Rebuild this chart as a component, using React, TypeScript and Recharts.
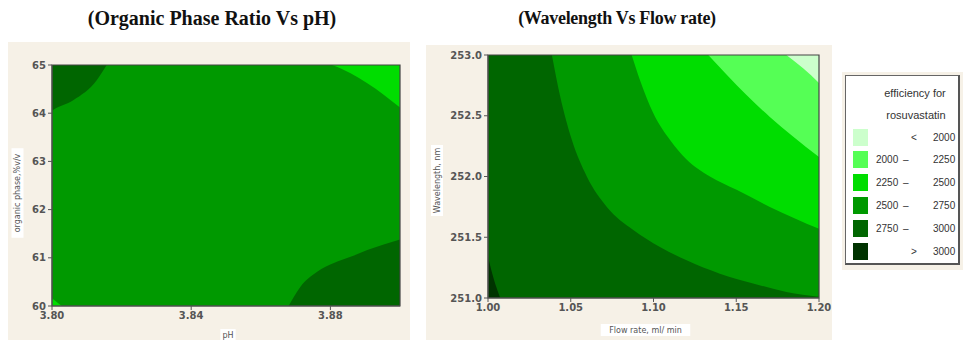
import { ComposedChart, Area, XAxis, YAxis, ReferenceArea, Label } from 'recharts';

// contour level colours, light -> dark
const levelNames = ['<  2000', '2000 –  2250', '2250 –  2500', '2500 –  2750', '2750 –  3000', '>  3000'];
const levelColors = ['#ccffcc', '#55ff55', '#00dd00', '#009900', '#006600', '#003300'];

// organic phase (%v/v) vs pH: contour edges
const phTicks = [3.8, 3.84, 3.88];
const organicTicks = [60, 61, 62, 63, 64, 65];
const phTopLeftEdge = [
  { x: 3.8, y: 64.05 },
  { x: 3.8004, y: 64.07 },
  { x: 3.8061, y: 64.27 },
  { x: 3.8129, y: 64.69 },
  { x: 3.8157, y: 65.0 },
];
const phTopRightEdge = [
  { x: 3.8805, y: 65.0 },
  { x: 3.8858, y: 64.83 },
  { x: 3.8906, y: 64.62 },
  { x: 3.8954, y: 64.38 },
  { x: 3.9, y: 64.12 },
];
const phBottomRightEdge = [
  { x: 3.868, y: 60.0 },
  { x: 3.8714, y: 60.4 },
  { x: 3.8762, y: 60.71 },
  { x: 3.881, y: 60.89 },
  { x: 3.8858, y: 61.02 },
  { x: 3.8906, y: 61.16 },
  { x: 3.9, y: 61.38 },
];
const phBottomLeftEdge = [
  { x: 3.8, y: 60.16 },
  { x: 3.8028, y: 60.0 },
];

// wavelength (nm) vs flow rate: contour edges
const flowTicks = [1.0, 1.05, 1.1, 1.15, 1.2];
const waveTicks = [251.0, 251.5, 252.0, 252.5, 253.0];
const wave2750Edge = [
  { x: 1.0386, y: 253.0 },
  { x: 1.0436, y: 252.66 },
  { x: 1.0507, y: 252.3 },
  { x: 1.0597, y: 252.0 },
  { x: 1.0718, y: 251.75 },
  { x: 1.0878, y: 251.56 },
  { x: 1.1039, y: 251.42 },
  { x: 1.12, y: 251.31 },
  { x: 1.1401, y: 251.2 },
  { x: 1.1602, y: 251.12 },
  { x: 1.1803, y: 251.05 },
  { x: 1.2, y: 251.01 },
];
const wave2500Edge = [
  { x: 1.0868, y: 253.0 },
  { x: 1.0919, y: 252.79 },
  { x: 1.0999, y: 252.52 },
  { x: 1.11, y: 252.3 },
  { x: 1.12, y: 252.14 },
  { x: 1.1341, y: 252.0 },
  { x: 1.1502, y: 251.89 },
  { x: 1.1703, y: 251.75 },
  { x: 1.2, y: 251.57 },
];
const wave2250Edge = [
  { x: 1.1331, y: 253.0 },
  { x: 1.1441, y: 252.84 },
  { x: 1.1562, y: 252.67 },
  { x: 1.1703, y: 252.49 },
  { x: 1.1843, y: 252.33 },
  { x: 1.2, y: 252.16 },
];
const wave2000Edge = [
  { x: 1.1803, y: 253.0 },
  { x: 1.1904, y: 252.89 },
  { x: 1.2, y: 252.77 },
];
const wave3000Edge = [
  { x: 1.0, y: 251.34 },
  { x: 1.0034, y: 251.16 },
  { x: 1.0074, y: 251.0 },
];

const panelBg = '#f6f1e7';
const tickFont = { fontSize: 10, fill: '#555', fontFamily: 'DejaVu Sans', fontWeight: 'bold' };

const sideTag = (text: string, cx: number, shift: number, fs: number) => (props: any) => {
  const vb = props.viewBox;
  const cy = vb.y + vb.height / 2 + shift;
  const w = text.length * fs * 0.58 + 6;
  return (
    <g transform={`translate(${cx},${cy}) rotate(-90)`}>
      <rect x={-w / 2} y={-fs / 2 - 2} width={w} height={fs + 4} fill="#fff" />
      <text textAnchor="middle" dy={fs * 0.35} fontSize={fs} fill="#555" fontFamily="DejaVu Sans">
        {text}
      </text>
    </g>
  );
};

const bottomTag = (text: string, shift: number, dy: number, fs: number) => (props: any) => {
  const vb = props.viewBox;
  const cx = vb.x + vb.width / 2 + shift;
  const cy = vb.y + dy;
  const w = text.length * fs * 0.58 + 6;
  return (
    <g>
      <rect x={cx - w / 2} y={cy - fs / 2 - 2} width={w} height={fs + 4} fill="#fff" />
      <text x={cx} y={cy} textAnchor="middle" dy={fs * 0.35} fontSize={fs} fill="#555" fontFamily="DejaVu Sans">
        {text}
      </text>
    </g>
  );
};

const edgeArea = (data: { x: number; y: number }[], fill: string, base: 'dataMin' | 'dataMax', key: string) => (
  <Area
    key={key}
    data={data}
    dataKey="y"
    type="monotone"
    baseValue={base}
    fill={fill}
    fillOpacity={1}
    stroke="none"
    isAnimationActive={false}
    dot={false}
    activeDot={false}
  />
);

function PhChart() {
  return (
    <ComposedChart width={402} height={298} margin={{ top: 23, right: 10, bottom: 0, left: 0 }}>
      <ReferenceArea x1={3.8} x2={3.9} y1={60} y2={65} fill={levelColors[3]} fillOpacity={1} stroke="none" />
      {edgeArea(phTopLeftEdge, levelColors[4], 'dataMax', 'tl')}
      {edgeArea(phTopRightEdge, levelColors[2], 'dataMax', 'tr')}
      {edgeArea(phBottomRightEdge, levelColors[4], 'dataMin', 'br')}
      {edgeArea(phBottomLeftEdge, levelColors[2], 'dataMin', 'bl')}
      <XAxis
        type="number"
        dataKey="x"
        domain={[3.8, 3.9]}
        ticks={phTicks}
        tickFormatter={(v: number) => v.toFixed(2)}
        allowDataOverflow
        height={34}
        tick={tickFont}
        tickSize={4}
        stroke="#555"
      >
        <Label content={bottomTag('pH', 2, 29, 8)} />
      </XAxis>
      <YAxis
        type="number"
        domain={[60, 65]}
        ticks={organicTicks}
        allowDataOverflow
        width={44}
        tick={tickFont}
        tickSize={4}
        stroke="#555"
      >
        <Label content={sideTag('organic phase,%v/v', 9.5, 7.5, 8)} />
      </YAxis>
      <ReferenceArea x1={3.8} x2={3.9} y1={60} y2={65} fill="none" stroke="#444" strokeWidth={1.2} />
    </ComposedChart>
  );
}

function WaveChart() {
  return (
    <ComposedChart width={406} height={295} margin={{ top: 10, right: 13, bottom: 0, left: 0 }}>
      <ReferenceArea x1={1.0} x2={1.2} y1={251} y2={253} fill={levelColors[4]} fillOpacity={1} stroke="none" />
      {edgeArea(wave2750Edge, levelColors[3], 'dataMax', 'w1')}
      {edgeArea(wave2500Edge, levelColors[2], 'dataMax', 'w2')}
      {edgeArea(wave2250Edge, levelColors[1], 'dataMax', 'w3')}
      {edgeArea(wave2000Edge, levelColors[0], 'dataMax', 'w4')}
      {edgeArea(wave3000Edge, levelColors[5], 'dataMin', 'w5')}
      <XAxis
        type="number"
        dataKey="x"
        domain={[1.0, 1.2]}
        ticks={flowTicks}
        tickFormatter={(v: number) => v.toFixed(2)}
        allowDataOverflow
        height={42}
        tick={tickFont}
        tickSize={4}
        stroke="#555"
      >
        <Label content={bottomTag('Flow rate, ml/ min', -8, 32, 8)} />
      </XAxis>
      <YAxis
        type="number"
        domain={[251, 253]}
        ticks={waveTicks}
        tickFormatter={(v: number) => v.toFixed(1)}
        allowDataOverflow
        width={62}
        tick={tickFont}
        tickSize={4}
        stroke="#555"
      >
        <Label content={sideTag('Wavelength, nm', 11, 4, 8)} />
      </YAxis>
      <ReferenceArea x1={1.0} x2={1.2} y1={251} y2={253} fill="none" stroke="#444" strokeWidth={1.2} />
    </ComposedChart>
  );
}

function LevelLegend() {
  return (
    <div style={{ position: 'absolute', left: 842, top: 72, width: 121, height: 198, background: panelBg }}>
      <div
        style={{
          position: 'absolute',
          left: 3,
          top: 3,
          width: 112,
          height: 187,
          background: '#fff',
          borderTop: '1px solid #666',
          borderLeft: '1px solid #666',
          borderRight: '2px solid #555',
          borderBottom: '2px solid #555',
          fontFamily: 'Liberation Sans',
          fontSize: 10,
          color: '#333',
        }}
      >
        <div style={{ position: 'absolute', top: 11, left: 0, width: 138, textAlign: 'center', fontSize: 11 }}>
          efficiency for
        </div>
        <div style={{ position: 'absolute', top: 33, left: 0, width: 140, textAlign: 'center', fontSize: 11 }}>
          rosuvastatin
        </div>
        {levelNames.map((name, i) => {
          const parts = name.split(/\s+/);
          return (
            <div key={name} style={{ position: 'absolute', top: 52.5 + i * 22.8, left: 0, width: '100%', height: 17 }}>
              <div style={{ position: 'absolute', left: 7, top: 0, width: 15, height: 17, background: levelColors[i] }} />
              {parts.length === 3 ? (
                <>
                  <span style={{ position: 'absolute', left: 30, top: 3 }}>{parts[0]}</span>
                  <span style={{ position: 'absolute', left: 57, top: 3 }}>{parts[1]}</span>
                  <span style={{ position: 'absolute', left: 87, top: 3 }}>{parts[2]}</span>
                </>
              ) : (
                <>
                  <span style={{ position: 'absolute', left: 65, top: 3 }}>{parts[0]}</span>
                  <span style={{ position: 'absolute', left: 87, top: 3 }}>{parts[1]}</span>
                </>
              )}
            </div>
          );
        })}
      </div>
    </div>
  );
}

const titleStyle = {
  position: 'absolute' as const,
  fontFamily: 'Liberation Serif',
  fontWeight: 'bold' as const,
  color: '#111',
  textAlign: 'center' as const,
  whiteSpace: 'nowrap' as const,
};

export default function App() {
  return (
    <div style={{ position: 'absolute', left: 0, top: 0, width: 963, height: 340, background: '#fff', overflow: 'hidden' }}>
      <div style={{ ...titleStyle, top: 7, left: 62, width: 300, fontSize: 20 }}>(Organic Phase Ratio Vs pH)</div>
      <div style={{ ...titleStyle, top: 8, left: 467, width: 300, fontSize: 18, letterSpacing: -0.3 }}>
        (Wavelength Vs Flow rate)
      </div>
      <div style={{ position: 'absolute', left: 8, top: 42, width: 402, height: 298, background: panelBg }}>
        <PhChart />
      </div>
      <div style={{ position: 'absolute', left: 426, top: 45, width: 406, height: 295, background: panelBg }}>
        <WaveChart />
      </div>
      <LevelLegend />
    </div>
  );
}
